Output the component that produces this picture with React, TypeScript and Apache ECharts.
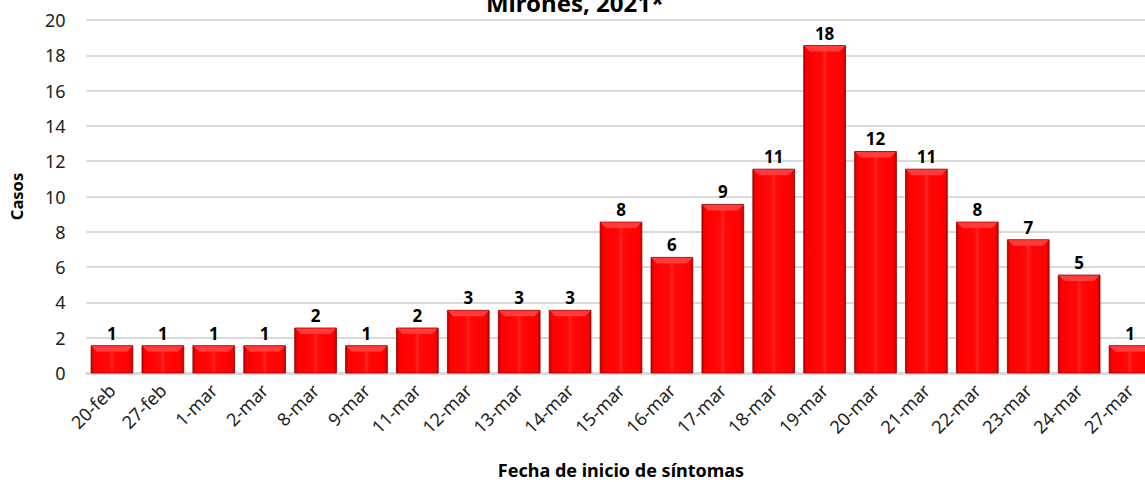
import React, { useEffect, useRef } from "react";
import * as echarts from "echarts";

const categories = ["20-feb","27-feb","1-mar","2-mar","8-mar","9-mar","11-mar","12-mar","13-mar","14-mar","15-mar","16-mar","17-mar","18-mar","19-mar","20-mar","21-mar","22-mar","23-mar","24-mar","27-mar"];
const casos = [1,1,1,1,2,1,2,3,3,3,8,6,9,11,18,12,11,8,7,5,1];
const yTicks = { min: 0, max: 20, interval: 2 };
const CAP_DEPTH = 0.55; // visual depth of the 3D bar top (axis units)

export default function App() {
  const ref = useRef<HTMLDivElement>(null);
  useEffect(() => {
    if (!ref.current) return;
    const chart = echarts.init(ref.current, null, { renderer: "svg" });
    const font = "Noto Sans";
    const bodyGrad = () =>
      new echarts.graphic.LinearGradient(0, 0, 1, 0, [
        { offset: 0, color: "#b00000" },
        { offset: 0.06, color: "#ff0000" },
        { offset: 0.44, color: "#ff0808" },
        { offset: 0.5, color: "#ff2626" },
        { offset: 0.56, color: "#ff0808" },
        { offset: 0.94, color: "#ff0000" },
        { offset: 1, color: "#b00000" },
      ]);
    chart.setOption({
      animation: false,
      textStyle: { fontFamily: font },
      grid: {
        left: 86.5,
        top: 20,
        width: 1069,
        bottom: 109,
        containLabel: false,
        outerBoundsMode: "none",
      },
      graphic: [
        {
          type: "text",
          x: 575,
          y: 2,
          style: {
            text: "Mirones, 2021*",
            font: `bold 24px ${font}`,
            fill: "#000",
            align: "center",
            verticalAlign: "middle",
          },
        },
      ],
      xAxis: {
        type: "category",
        data: categories,
        name: "Fecha de inicio de síntomas",
        nameLocation: "middle",
        nameGap: 88,
        nameTextStyle: { fontFamily: font, fontWeight: "bold", fontSize: 18, color: "#000" },
        axisLine: { show: true, lineStyle: { color: "#d9d9d9", width: 3 } },
        axisTick: { show: false },
        axisLabel: { rotate: 45, fontSize: 18, color: "#222", margin: 14, interval: 0, fontFamily: font },
      },
      yAxis: {
        type: "value",
        min: yTicks.min,
        max: yTicks.max,
        interval: yTicks.interval,
        name: "Casos",
        nameLocation: "middle",
        nameGap: 62,
        nameTextStyle: { fontFamily: font, fontWeight: "bold", fontSize: 16.5, color: "#000" },
        axisLine: { show: false },
        axisTick: { show: false },
        axisLabel: { fontSize: 18, color: "#222", margin: 21, fontFamily: font },
        splitLine: { lineStyle: { color: "#d9d9d9", width: 2 } },
      },
      series: [
        {
          type: "custom",
          data: casos.map((v, i) => [i, v]),
          encode: { x: 0, y: 1 },
          clip: false,
          renderItem: (params: any, api: any) => {
            const i = api.value(0);
            const v = api.value(1);
            const base = api.coord([i, 0]);
            const top = api.coord([i, v + CAP_DEPTH]);
            const w = api.size([1, 0])[0] * 0.82;
            const x0 = base[0] - w / 2;
            const h = base[1] - top[1];
            const bev = 6;
            return {
              type: "group",
              children: [
                {
                  type: "rect",
                  shape: { x: x0, y: top[1], width: w, height: h },
                  style: { fill: bodyGrad(), stroke: "#8f0000", lineWidth: 0.8 },
                },
                {
                  type: "polygon",
                  shape: {
                    points: [
                      [x0 + 0.5, top[1] + 0.5],
                      [x0 + w - 0.5, top[1] + 0.5],
                      [x0 + w - bev, top[1] + bev],
                      [x0 + bev, top[1] + bev],
                    ],
                  },
                  style: { fill: "#ff3c3c" },
                },
                {
                  type: "text",
                  x: base[0],
                  y: top[1] - 4,
                  style: {
                    text: String(v),
                    align: "center",
                    verticalAlign: "bottom",
                    font: `bold 17px ${font}`,
                    fill: "#000",
                  },
                },
              ],
            };
          },
        },
      ],
    });
    return () => chart.dispose();
  }, []);
  return (
    <div
      ref={ref}
      style={{ position: "fixed", left: 0, top: 0, width: 1145, height: 482, background: "#fff" }}
    />
  );
}
